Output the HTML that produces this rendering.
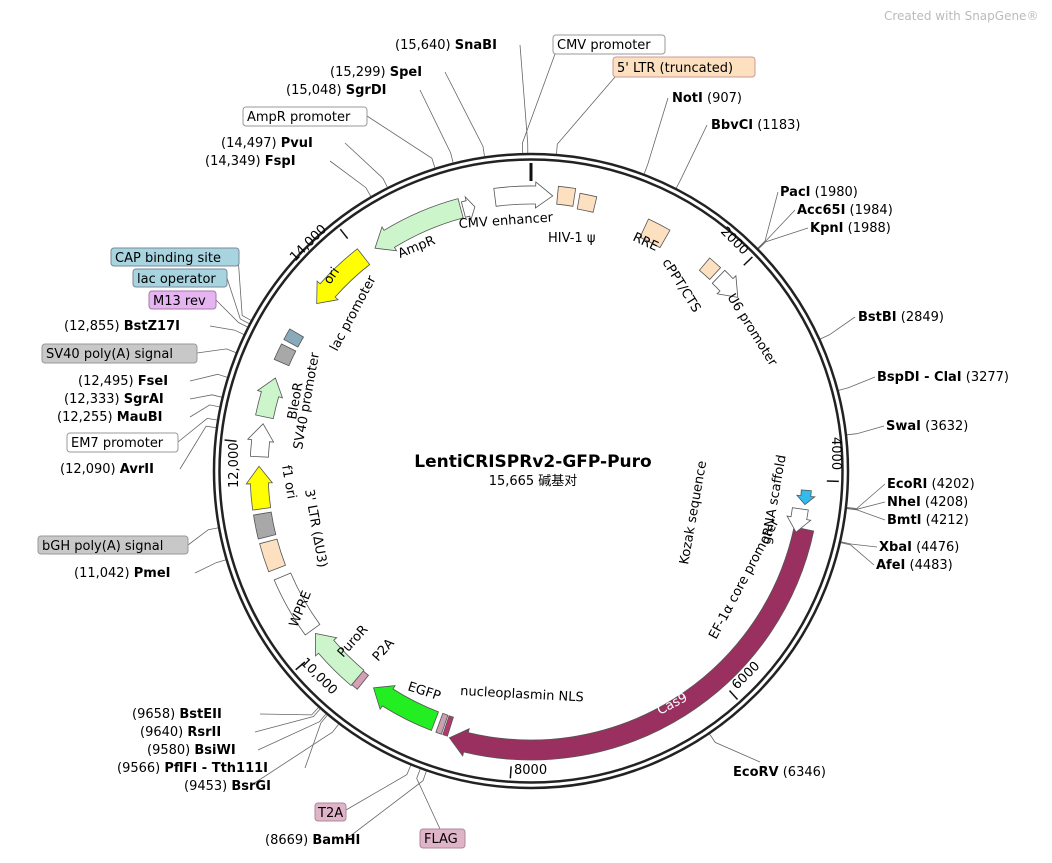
<!DOCTYPE html>
<html><head><meta charset="utf-8"><style>
body{margin:0;background:#fff;width:1052px;height:858px;overflow:hidden}
svg text{font-family:"DejaVu Sans","Liberation Sans","Noto Sans CJK SC",sans-serif;font-size:13px;fill:#000}
.b{font-weight:bold}
</style></head><body>
<svg id="s" width="1052" height="858" xmlns="http://www.w3.org/2000/svg">
<g id="lines" stroke="#666" stroke-width="0.8" fill="none"></g>
<circle cx="531" cy="471" r="317" fill="none" stroke="#222" stroke-width="2.5"/>
<circle cx="531" cy="471" r="311.5" fill="none" stroke="#222" stroke-width="2.5"/>
<g id="feat"></g>
<text x="884" y="20" style="font-size:12px;fill:#bbb">Created with SnapGene®</text>
<text x="533" y="467" text-anchor="middle" class="b" style="font-size:17px">LentiCRISPRv2-GFP-Puro</text>
<text x="533" y="485" text-anchor="middle" style="font-size:13px">15,665 碱基对</text>

<rect x="553" y="35" width="112" height="19" rx="3" fill="#fff" stroke="#999"/>
<text x="557" y="49">CMV promoter</text>
<rect x="613" y="57" width="142" height="20" rx="3" fill="#fde0c0" stroke="#c99"/>
<text x="617" y="72">5' LTR (truncated)</text>
<rect x="243" y="107" width="124" height="19" rx="3" fill="#fff" stroke="#999"/>
<text x="247" y="121">AmpR promoter</text>
<rect x="111" y="248" width="128" height="18" rx="3" fill="#a8d4e0" stroke="#789"/>
<text x="115" y="262">CAP binding site</text>
<rect x="133" y="269" width="94" height="18" rx="3" fill="#a8d4e0" stroke="#789"/>
<text x="137" y="283">lac operator</text>
<rect x="149" y="291" width="67" height="18" rx="3" fill="#e6b4f0" stroke="#a7a"/>
<text x="153" y="305">M13 rev</text>
<rect x="42" y="344" width="155" height="19" rx="3" fill="#c8c8c8" stroke="#999"/>
<text x="46" y="358">SV40 poly(A) signal</text>
<rect x="67" y="433" width="111" height="19" rx="3" fill="#fff" stroke="#999"/>
<text x="71" y="447">EM7 promoter</text>
<rect x="38" y="536" width="150" height="18" rx="3" fill="#c8c8c8" stroke="#999"/>
<text x="42" y="550">bGH poly(A) signal</text>
<rect x="315" y="803" width="31" height="18" rx="3" fill="#e0b4c8" stroke="#a89"/>
<text x="318" y="817">T2A</text>
<rect x="420" y="829" width="45" height="19" rx="3" fill="#e0b4c8" stroke="#a89"/>
<text x="424" y="843">FLAG</text>

<text x="395" y="49">(15,640) <tspan class="b">SnaBI</tspan></text>
<text x="330" y="76">(15,299) <tspan class="b">SpeI</tspan></text>
<text x="286" y="94">(15,048) <tspan class="b">SgrDI</tspan></text>
<text x="221" y="147">(14,497) <tspan class="b">PvuI</tspan></text>
<text x="205" y="165">(14,349) <tspan class="b">FspI</tspan></text>
<text x="672" y="102"><tspan class="b">NotI</tspan> (907)</text>
<text x="711" y="129"><tspan class="b">BbvCI</tspan> (1183)</text>
<text x="780" y="196"><tspan class="b">PacI</tspan> (1980)</text>
<text x="797" y="214"><tspan class="b">Acc65I</tspan> (1984)</text>
<text x="810" y="232"><tspan class="b">KpnI</tspan> (1988)</text>
<text x="858" y="321"><tspan class="b">BstBI</tspan> (2849)</text>
<text x="877" y="381"><tspan class="b">BspDI - ClaI</tspan> (3277)</text>
<text x="886" y="430"><tspan class="b">SwaI</tspan> (3632)</text>
<text x="887" y="488"><tspan class="b">EcoRI</tspan> (4202)</text>
<text x="887" y="506"><tspan class="b">NheI</tspan> (4208)</text>
<text x="887" y="524"><tspan class="b">BmtI</tspan> (4212)</text>
<text x="879" y="551"><tspan class="b">XbaI</tspan> (4476)</text>
<text x="876" y="569"><tspan class="b">AfeI</tspan> (4483)</text>
<text x="733" y="776"><tspan class="b">EcoRV</tspan> (6346)</text>
<text x="64" y="330">(12,855) <tspan class="b">BstZ17I</tspan></text>
<text x="78" y="385">(12,495) <tspan class="b">FseI</tspan></text>
<text x="64" y="403">(12,333) <tspan class="b">SgrAI</tspan></text>
<text x="57" y="421">(12,255) <tspan class="b">MauBI</tspan></text>
<text x="60" y="473">(12,090) <tspan class="b">AvrII</tspan></text>
<text x="74" y="577">(11,042) <tspan class="b">PmeI</tspan></text>
<text x="132" y="718">(9658) <tspan class="b">BstEII</tspan></text>
<text x="140" y="736">(9640) <tspan class="b">RsrII</tspan></text>
<text x="147" y="754">(9580) <tspan class="b">BsiWI</tspan></text>
<text x="117" y="772">(9566) <tspan class="b">PflFI - Tth111I</tspan></text>
<text x="184" y="790">(9453) <tspan class="b">BsrGI</tspan></text>
<text x="265" y="844">(8669) <tspan class="b">BamHI</tspan></text>

<text x="459" y="228" transform="rotate(-4 459 228)">CMV enhancer</text>
<text x="548" y="242">HIV-1 ψ</text>
<text x="632" y="240" transform="rotate(25 632 240)">RRE</text>
<text x="662" y="262" transform="rotate(58 662 262)">cPPT/CTS</text>
<text x="727" y="297" transform="rotate(58 727 297)">U6 promoter</text>
<text x="770" y="545" transform="rotate(-80 770 545)">gRNA scaffold</text>
<text x="688" y="565" transform="rotate(-80 688 565)">Kozak sequence</text>
<text x="716" y="640" transform="rotate(-62 716 640)">EF-1α core promoter</text>
<text x="660" y="715" transform="rotate(-28 660 715)" style="fill:#fff">Cas9</text>
<text x="460" y="695" transform="rotate(3 460 695)">nucleoplasmin NLS</text>
<text x="407" y="690" transform="rotate(18 407 690)">EGFP</text>
<text x="378" y="662" transform="rotate(-48 378 662)">P2A</text>
<text x="343" y="658" transform="rotate(-48 343 658)">PuroR</text>
<text x="297" y="628" transform="rotate(-68 297 628)">WPRE</text>
<text x="305" y="490" transform="rotate(80 305 490)">3' LTR (ΔU3)</text>
<text x="282" y="466" transform="rotate(80 282 466)">f1 ori</text>
<text x="302" y="450" transform="rotate(-80 302 450)">SV40 promoter</text>
<text x="296" y="420" transform="rotate(-80 296 420)">BleoR</text>
<text x="337" y="352" transform="rotate(-62 337 352)">lac promoter</text>
<text x="330" y="285" transform="rotate(-55 330 285)">ori</text>
<text x="400" y="258" transform="rotate(-22 400 258)">AmpR</text>
<text x="720" y="232" transform="rotate(45 720 232)">2000</text>
<text x="832" y="437" transform="rotate(90 832 437)">4000</text>
<text x="737" y="690" transform="rotate(-45 737 690)">6000</text>
<text x="514" y="774">8000</text>
<text x="300" y="663" transform="rotate(45 300 663)">10,000</text>
<text x="238" y="488" transform="rotate(-90 238 488)">12,000</text>
<text x="295" y="262" transform="rotate(-45 295 262)">14,000</text>
</svg>
<script>
var cx=531,cy=471,N=15665,NS="http://www.w3.org/2000/svg";
function P(a,r){var t=a*Math.PI/180;return [cx+r*Math.sin(t),cy-r*Math.cos(t)];}
function add(p,tag,at){var e=document.createElementNS(NS,tag);for(var k in at)e.setAttribute(k,at[k]);document.getElementById(p).appendChild(e);return e;}
function pt(a,r){var q=P(a,r);return q[0].toFixed(1)+","+q[1].toFixed(1);}
function band(a1,a2,r,w,fill,dir){
 var ri=r-w/2,ro=r+w/2,h=Math.min(3.5*280/r,(a2-a1)*0.6),d,lf=(a2-a1)>180?1:0;
 if(dir==0){d="M"+pt(a1,ro)+"A"+ro+","+ro+" 0 "+lf+" 1 "+pt(a2,ro)+"L"+pt(a2,ri)+"A"+ri+","+ri+" 0 "+lf+" 0 "+pt(a1,ri)+"Z";}
 else if(dir==1){var b=a2-h;d="M"+pt(a1,ro)+"A"+ro+","+ro+" 0 0 1 "+pt(b,ro)+"L"+pt(b,ro+4)+"L"+pt(a2,r)+"L"+pt(b,ri-4)+"L"+pt(b,ri)+"A"+ri+","+ri+" 0 0 0 "+pt(a1,ri)+"Z";}
 else {var b=a1+h;d="M"+pt(a2,ro)+"A"+ro+","+ro+" 0 0 0 "+pt(b,ro)+"L"+pt(b,ro+4)+"L"+pt(a1,r)+"L"+pt(b,ri-4)+"L"+pt(b,ri)+"A"+ri+","+ri+" 0 0 1 "+pt(a2,ri)+"Z";}
 add("feat","path",{d:d,fill:fill,stroke:"#555","stroke-width":0.8});
}
[0,2000,4000,6000,8000,10000,12000,14000].forEach(function(p){var a=p/N*360;var q1=P(a,308),q2=P(a,p==0?290:296);add("feat","line",{x1:q1[0],y1:q1[1],x2:q2[0],y2:q2[1],stroke:"#111","stroke-width":p==0?3:1.5});});
band(102,197,279,20,"#9a3060",1);
band(197.5,198.5,268,20,"#b3396c",0);
band(198.8,200,268,20,"#c8a0b0",0);
band(201,216,268,20,"#22ee22",1);
band(218.5,220,270,18,"#d4a0b4",0);
band(220,233,270,20,"#ccf5cc",1);
band(234,247,270,18,"#fff",0);
band(249,255,272,18,"#fde0c0",0);
band(256,261,272,18,"#a8a8a8",0);
band(262,271,272,18,"#ffff00",1);
band(273,280,272,18,"#fff",1);
band(281.5,290,272,18,"#ccf5cc",1);
band(293.5,297,272,16,"#a8a8a8",0);
band(298,300.5,272,16,"#8ab",0);
band(308,322,272,20,"#ffff00",-1);
band(325,345,272,20,"#ccf5cc",-1);
band(345.5,348,270,16,"#fff",1);
band(-7.5,4.5,276,18,"#fff",1);
band(5.5,9,277,18,"#fde0c0",0);
band(10,13.5,274,16,"#fde0c0",0);
band(25,30,268,20,"#fde0c0",0);
band(40,43,270,16,"#fde0c0",0);
band(44,50,270,18,"#fff",1);
band(94,97,276,10,"#33bbee",1);
band(98,103,272,16,"#fff",1);
var L=[[520,45,15640],[445,72,15299],[420,90,15048],[367,116,14900],[345,143,14497],[330,161,14349],[555,54,15600],[615,77,200],[668,98,907],[707,125,1183],[778,192,1980],[795,210,1984],[808,228,1988],[855,317,2849],[875,377,3277],[884,426,3632],[885,484,4202],[885,502,4208],[885,520,4212],[877,547,4476],[874,565,4483],[760,762,6346],[238,257,12980],[227,278,12950],[216,300,12920],[210,326,12855],[197,353,12700],[190,381,12495],[190,399,12333],[190,417,12255],[178,442,12150],[180,469,12090],[188,545,11300],[195,573,11042],[260,714,9658],[255,732,9640],[258,750,9580],[305,768,9566],[250,786,9453],[346,810,8800],[345,840,8669],[440,829,8720]];
L.forEach(function(l){var a=l[2]/N*360,q=P(a,318),q2=P(a,328);add("lines","path",{d:"M"+l[0]+","+l[1]+"L"+q2[0].toFixed(1)+","+q2[1].toFixed(1)+"L"+q[0].toFixed(1)+","+q[1].toFixed(1)});});
</script>
</body></html>
